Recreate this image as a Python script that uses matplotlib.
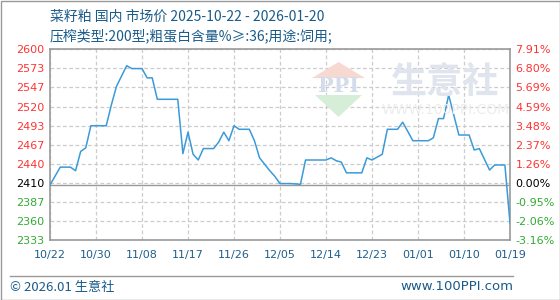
import matplotlib
matplotlib.use("Agg")
import matplotlib.pyplot as plt
from matplotlib.patches import Polygon
import numpy as np
import pandas as pd

plt.rcParams['font.family'] = ['Noto Sans CJK SC', 'DejaVu Sans']

# ---- data ----
start_date = "2025-10-22"
day_offsets = [0, 2, 4, 5, 6, 7, 8, 11, 12, 13, 15, 16, 18, 19, 20, 21, 25, 26, 27, 28,
               29, 30, 32, 33, 34, 35, 36, 37, 39, 40, 41, 43, 44, 45, 47, 49, 50, 54,
               55, 56, 57, 58, 61, 62, 63, 64, 65, 66, 68, 69, 71, 74, 75, 76, 77, 78,
               79, 80, 82, 83, 84, 86, 87, 89, 90]
prices = [2410, 2435, 2435, 2430, 2457, 2462, 2493, 2493, 2522, 2548, 2577, 2573, 2573, 2560,
          2560, 2530, 2530, 2454, 2484, 2453, 2445, 2461, 2461, 2470, 2484, 2472, 2493,
          2488, 2488, 2472, 2448, 2430, 2422, 2412, 2412, 2411, 2445, 2445, 2448, 2444,
          2442, 2427, 2427, 2448, 2445, 2449, 2453, 2488, 2488, 2498, 2472, 2472, 2476,
          2503, 2503, 2536, 2508, 2480, 2480, 2459, 2461, 2431, 2438, 2438, 2357]
base_price = 2410
ytick_vals = list(np.linspace(2333, 2600, 11))
ytick_left = ["2333", "2360", "2387", "2410", "2440", "2467", "2493", "2520", "2547", "2573", "2600"]
ytick_right = ["-3.16%", "-2.06%", "-0.95%", "0.00%", "1.26%", "2.37%", "3.48%", "4.59%",
               "5.69%", "6.80%", "7.91%"]
xtick_labels = ["10/22", "10/30", "11/08", "11/17", "11/26", "12/05", "12/14", "12/23",
                "01/01", "01/10", "01/19"]
title1 = "菜籽粕 国内 市场价 2025-10-22 - 2026-01-20"
title2 = "压榨类型:200型;粗蛋白含量%≥:36;用途:饲用;"

dates = pd.to_datetime(start_date) + pd.to_timedelta(day_offsets, unit="D")
x = (dates - pd.to_datetime(start_date)).days.values

fig = plt.figure(figsize=(5.6, 3.0), dpi=100)
ax = fig.add_axes([50/560, 1-240/300, 460/560, (240-49.3)/300])

# watermark
wm = dict(transform=fig.transFigure, zorder=0)
fig.patches.append(Polygon([[312/560, 1-78/300], [365/560, 1-78/300], [338.5/560, 1-62/300]],
                           closed=True, facecolor="#f7d9d2", edgecolor="none", **wm))
fig.patches.append(Polygon([[315/560, 1-95/300], [362/560, 1-95/300], [338.5/560, 1-117/300]],
                           closed=True, facecolor="#d6eed8", edgecolor="none", **wm))
fig.text(338.5/560, 1-86.5/300, "PPI", ha="center", va="center", fontsize=15, color="#d3dcec",
         family=["DejaVu Serif"], fontweight="bold", zorder=0)
fig.text(445/560, 1-83/300, "生意社", ha="center", va="center", fontsize=26, color="#dfe4ee",
         fontweight="bold", zorder=0)
fig.text(446/560, 1-110/300, "WWW.100PPI.COM", ha="center", va="center", fontsize=10,
         color="#ededed", family=["DejaVu Sans"], zorder=0)

ax.patch.set_alpha(0)
ax.plot(x, prices, color="#3b9ad9", linewidth=1.1, zorder=3)
ax.axhline(base_price, color="#999999", linewidth=1.0, zorder=2)

ax.set_xlim(0, 90)
ax.set_ylim(2333, 2600)
ax.set_xticks(np.linspace(0, 90, 11))
ax.set_xticklabels(xtick_labels, family=["DejaVu Sans"], fontsize=8, color="#1f5f8c")
ax.set_yticks(ytick_vals)
ax.set_yticklabels(ytick_left, family=["DejaVu Sans"], fontsize=8)
for i, t in enumerate(ax.get_yticklabels()):
    t.set_color("#33aa33" if i < 3 else ("#000000" if i == 3 else "#ff3333"))
ax.tick_params(axis="both", length=0, pad=4)
ax.tick_params(axis="x", pad=7)
ax.grid(True, color="#cccccc", linestyle=(0, (3, 2)), linewidth=0.9)
for s in ax.spines.values():
    s.set_color("#999999")
    s.set_linewidth(1.2)

ax2 = ax.twinx()
ax2.set_ylim(2333, 2600)
ax2.set_yticks(ytick_vals)
ax2.set_yticklabels(ytick_right, family=["DejaVu Sans"], fontsize=8)
for i, t in enumerate(ax2.get_yticklabels()):
    t.set_color("#33aa33" if i < 3 else ("#000000" if i == 3 else "#ff3333"))
ax2.tick_params(axis="y", length=0, pad=4)
for s in ax2.spines.values():
    s.set_visible(False)

fig.text(50/560, 1-17/300, title1, ha="left", va="center", fontsize=10, color="#1a5b8a")
fig.text(50/560, 1-36/300, title2, ha="left", va="center", fontsize=10, color="#1a5b8a")

fig.add_artist(plt.Line2D([10/560, 513/560], [1-275.5/300, 1-275.5/300], color="#999999",
                          linewidth=1, transform=fig.transFigure))
fig.text(10/560, 1-287/300, "© 2026.01 生意社", ha="left", va="center", fontsize=9.5,
         color="#1a5b8a")
fig.text(513/560, 1-287/300, "www.100PPI.com", ha="right", va="center", fontsize=9.5,
         color="#1a5b8a", family=["DejaVu Sans"])
fig.patches.append(plt.Rectangle((0.5/560, 0.5/300), 1-1/560, 1-1/300, fill=False,
                                 edgecolor="#999999", linewidth=1, transform=fig.transFigure))

fig.savefig("out.png", dpi=100)
